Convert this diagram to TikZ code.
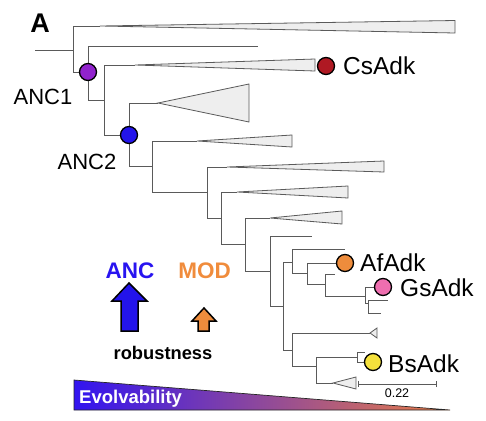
\documentclass[tikz,border=0pt]{standalone}
\usepackage{fontspec}
\setmainfont{Liberation Sans}
\definecolor{treegray}{RGB}{90,90,90}
\definecolor{cladefill}{RGB}{238,238,238}
\definecolor{ancone}{RGB}{145,35,205}
\definecolor{anctwo}{RGB}{35,20,235}
\definecolor{csred}{RGB}{175,25,35}
\definecolor{aforange}{RGB}{238,140,60}
\definecolor{gspink}{RGB}{238,110,175}
\definecolor{bsyellow}{RGB}{245,225,60}
\definecolor{ancblue}{RGB}{40,20,240}
\definecolor{modorange}{RGB}{240,140,60}
\definecolor{evblue}{RGB}{50,20,240}
\definecolor{evpurple}{RGB}{125,65,175}
\definecolor{evorange}{RGB}{235,125,70}
\tikzset{
  br/.style={draw=treegray, line width=0.9pt},
  clade/.style={draw=treegray, fill=cladefill, line width=0.8pt, line join=miter},
  dot/.style={circle, draw=black, line width=1.3pt, minimum size=17pt, inner sep=0pt},
  sp/.style={anchor=west, inner sep=0pt, font=\fontsize{24.5}{28}\selectfont},
  anclab/.style={inner sep=0pt, font=\fontsize{22}{26}\selectfont},
  bigarrow/.style={draw=black, line width=1.5pt, line join=miter},
}
\begin{document}
\begin{tikzpicture}[x=1pt,y=-1pt]
\useasboundingbox (0,0) rectangle (486,420);
% coordinates of tree
\coordinate (root0) at (35,50);
\coordinate (r) at (73,50);
\coordinate (t1a) at (100,26);
\coordinate (anc1) at (88,72);
\coordinate (l1) at (258,46);
\coordinate (n1) at (104,100);
\coordinate (csa) at (135,65);
\coordinate (anc2) at (129,135);
\coordinate (t3a) at (158,103);
\coordinate (n2) at (152,166);
\coordinate (t4a) at (197,141);
\coordinate (n3) at (207,192);
\coordinate (t5a) at (227,167);
\coordinate (n4) at (221,218);
\coordinate (t6a) at (237,192);
\coordinate (n5) at (245,244);
\coordinate (t7a) at (270,218);
\coordinate (n6) at (270,271);
\coordinate (l2) at (312,236);
\coordinate (n7) at (283,306);
\coordinate (n8) at (292,262);
\coordinate (l3) at (345,249);
\coordinate (n9) at (307,273);
\coordinate (af) at (345,263);
\coordinate (n10) at (325,284);
\coordinate (l4) at (335,274);
\coordinate (n11) at (365,296);
\coordinate (gs) at (383,287);
\coordinate (n11b) at (368,303);
\coordinate (l5) at (388,300);
\coordinate (l6) at (381,313);
\coordinate (n12) at (292,350);
\coordinate (t8a) at (370,333);
\coordinate (n13) at (316,366);
\coordinate (n14) at (357,357);
\coordinate (t9a) at (333,383);
\coordinate (l7) at (365,352);
\coordinate (bs) at (373,362);
\coordinate (cs) at (326,66);
% branches
\draw[br] (root0) -- (r);
\draw[br] (r) |- (t1a);
\draw[br] (r) |- (anc1);
\draw[br] (anc1) |- (l1);
\draw[br] (anc1) |- (n1);
\draw[br] (n1) |- (csa);
\draw[br] (n1) |- (anc2);
\draw[br] (anc2) |- (t3a);
\draw[br] (anc2) |- (n2);
\draw[br] (n2) |- (t4a);
\draw[br] (n2) |- (n3);
\draw[br] (n3) |- (t5a);
\draw[br] (n3) |- (n4);
\draw[br] (n4) |- (t6a);
\draw[br] (n4) |- (n5);
\draw[br] (n5) |- (t7a);
\draw[br] (n5) |- (n6);
\draw[br] (n6) |- (l2);
\draw[br] (n6) |- (n7);
\draw[br] (n7) |- (n8);
\draw[br] (n7) |- (n12);
\draw[br] (n8) |- (l3);
\draw[br] (n8) |- (n9);
\draw[br] (n9) |- (af);
\draw[br] (n9) |- (n10);
\draw[br] (n10) |- (l4);
\draw[br] (n10) |- (n11);
\draw[br] (n11) |- (gs);
\draw[br] (n11) |- (n11b);
\draw[br] (n11b) |- (l5);
\draw[br] (n11b) |- (l6);
\draw[br] (n12) |- (t8a);
\draw[br] (n12) |- (n13);
\draw[br] (n13) |- (n14);
\draw[br] (n13) |- (t9a);
\draw[br] (n14) |- (l7);
\draw[br] (n14) |- (bs);
% collapsed clades
\draw[clade] (t1a) -- (455,20.5) -- (455,33) -- cycle;
\draw[clade] (csa) -- (315,59) -- (315,71) -- cycle;
\draw[clade] (t3a) -- (249,84) -- (249,122) -- cycle;
\draw[clade] (t4a) -- (292,135) -- (292,147) -- cycle;
\draw[clade] (t5a) -- (384,161) -- (384,172) -- cycle;
\draw[clade] (t6a) -- (348,186) -- (348,198) -- cycle;
\draw[clade] (t7a) -- (342,211) -- (342,224) -- cycle;
\draw[clade] (t8a) -- (377,328) -- (377,338) -- cycle;
\draw[clade] (t9a) -- (356,377) -- (356,389) -- cycle;
% dots
\node[dot, fill=ancone] (ANC1dot) at (anc1) {};
\node[dot, fill=anctwo] (ANC2dot) at (anc2) {};
\node[dot, fill=csred] (CSdot) at (cs) {};
\node[dot, fill=aforange] (AFdot) at (af) {};
\node[dot, fill=gspink] (GSdot) at (gs) {};
\node[dot, fill=bsyellow] (BSdot) at (bs) {};
% labels
\node[inner sep=0pt, font=\fontsize{27}{30}\selectfont\bfseries] (lblA) at (40,23) {A};
\node[anclab] (ANC1lab) at (43,97) {ANC1};
\node[anclab] (ANC2lab) at (87,162) {ANC2};
\node[sp] (CSlab) at (343,66) {CsAdk};
\node[sp] (AFlab) at (360,263) {AfAdk};
\node[sp] (GSlab) at (400,288) {GsAdk};
\node[sp] (BSlab) at (388,364) {BsAdk};
% scale bar
\coordinate (sb1) at (358,384);
\coordinate (sb2) at (436,384);
\draw[br, line width=0.7pt] (sb1) -- (sb2);
\draw[br, line width=0.7pt] ([yshift=-3pt]sb1) -- ([yshift=3pt]sb1);
\draw[br, line width=0.7pt] ([yshift=-3pt]sb2) -- ([yshift=3pt]sb2);
\node[inner sep=0pt, font=\fontsize{12.5}{14}\selectfont] (sblab) at (397,393) {0.22};
% ANC / MOD
\node[inner sep=0pt, text=ancblue, font=\fontsize{22.5}{26}\selectfont\bfseries] (ANClab) at (130,271) {ANC};
\node[inner sep=0pt, text=modorange, font=\fontsize{22.5}{26}\selectfont\bfseries] (MODlab) at (204.5,271) {MOD};
\draw[bigarrow, fill=anctwo] (129,283) -- (147,301) -- (138,301) -- (138,331) -- (121,331) -- (121,301) -- (112,301) -- cycle;
\draw[bigarrow, fill=aforange] (204,308) -- (216,321) -- (209,321) -- (209,331) -- (198,331) -- (198,321) -- (192,321) -- cycle;
\node[inner sep=0pt, font=\fontsize{18.3}{22}\selectfont\bfseries] (roblab) at (163,353) {robustness};
% evolvability wedge
\shade[left color=evblue, middle color=evpurple, right color=evorange] (74,380) -- (450,410) -- (74,410) -- cycle;
\draw[black!85, line width=0.7pt, line join=miter] (74,380) -- (450,410) -- (74,410) -- cycle;
\node[anchor=base west, inner sep=0pt, text=white, font=\fontsize{18.5}{21}\selectfont\bfseries] (evlab) at (79,403.5) {Evolvability};
\end{tikzpicture}
\end{document}
